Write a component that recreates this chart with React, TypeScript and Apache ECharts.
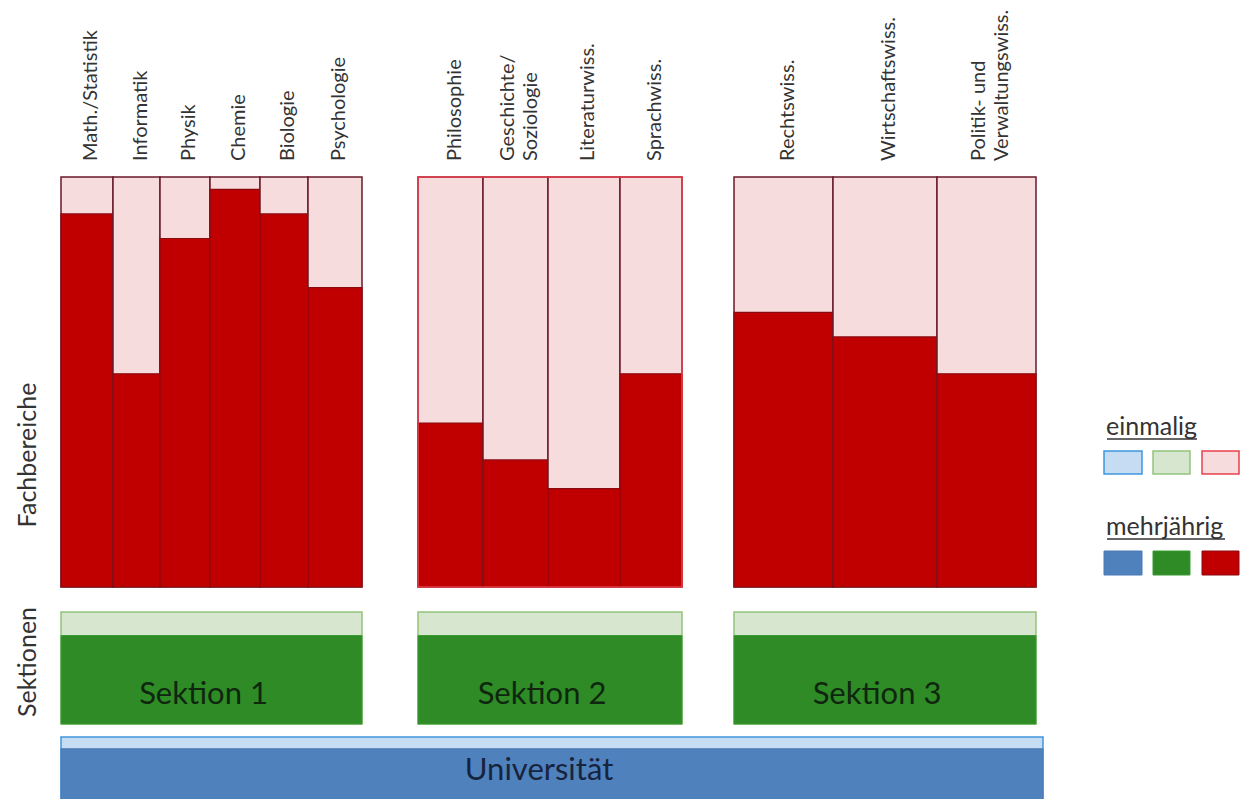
import React, { useEffect, useRef } from "react";
import * as echarts from "echarts";

// ---- data ----
const categories = [
  "Math./Statistik", "Informatik", "Physik", "Chemie", "Biologie", "Psychologie",
  "Philosophie", "Geschichte/\nSoziologie", "Literaturwiss.", "Sprachwiss.",
  "Rechtswiss.", "Wirtschaftswiss.", "Politik- und\nVerwaltungswiss.",
];
const sectionOf = [0, 0, 0, 0, 0, 0, 1, 1, 1, 1, 2, 2, 2];
const columnWidths = [52, 47, 50, 50, 48, 54, 65, 65, 72, 62, 99, 104, 99];
const mehrjaehrigShare = [91, 52, 85, 97, 91, 73, 40, 31, 24, 52, 67, 61, 52];
const sections = ["Sektion 1", "Sektion 2", "Sektion 3"];
const sectionEinmaligShare = [21, 21, 21];
const university = ["Universität"];
const universityEinmaligShare = [19];
const sectionGaps = [56, 52];
const universityWidth = 982;

// ---- layout helpers ----
const colStart: number[] = [];
{
  let x = 0;
  for (let i = 0; i < categories.length; i++) {
    if (i > 0 && sectionOf[i] !== sectionOf[i - 1]) x += sectionGaps[sectionOf[i] - 1];
    colStart.push(x);
    x += columnWidths[i];
  }
}
const sectionRange = sections.map((_, s) => {
  const idx = sectionOf.map((v, i) => (v === s ? i : -1)).filter((i) => i >= 0);
  const a = colStart[idx[0]];
  const b = colStart[idx[idx.length - 1]] + columnWidths[idx[idx.length - 1]];
  return [a, b];
});

const RED = "#c00000";
const PINK = "#f6dcdc";
const DARK_BORDER = "#6a1a28";
const BRIGHT_RED = "#e8404c";
const GREEN = "#2e8b26";
const LIGHT_GREEN = "#d6e6cf";
const GREEN_BORDER = "#93c47d";
const BLUE = "#4f81bd";
const LIGHT_BLUE = "#c5dcf2";
const BLUE_BORDER = "#3f96e0";
const FONT = "Lato, 'Open Sans', sans-serif";

export default function App() {
  const ref = useRef<HTMLDivElement>(null);
  useEffect(() => {
    document.body.style.margin = "0";
    const chart = echarts.init(ref.current!, null, { renderer: "svg" });

    const fachData = categories.map((c, i) => [colStart[i], colStart[i] + columnWidths[i], mehrjaehrigShare[i], i]);
    const sektData = sections.map((s, i) => [sectionRange[i][0], sectionRange[i][1], 100 - sectionEinmaligShare[i], i]);
    const uniData = university.map((u, i) => [0, universityWidth, 100 - universityEinmaligShare[i], i]);

    const grids = [
      { left: 61, top: 177, width: 982, height: 410 },
      { left: 61, top: 612, width: 982, height: 112 },
      { left: 61, top: 737, width: 982, height: 62 },
    ];

    const option: any = {
      animation: false,
      grid: grids,
      xAxis: grids.map((_, i) => ({ type: "value", gridIndex: i, min: 0, max: universityWidth, show: false })),
      yAxis: grids.map((_, i) => ({ type: "value", gridIndex: i, min: 0, max: 100, show: false })),
      series: [
        {
          type: "custom",
          xAxisIndex: 0,
          yAxisIndex: 0,
          data: fachData,
          renderItem: (params: any, api: any) => {
            const x0 = api.value(0), x1 = api.value(1), s = api.value(2), i = api.value(3);
            const tl = api.coord([x0, 100]);
            const br = api.coord([x1, 0]);
            const mid = api.coord([x0, s]);
            const w = br[0] - tl[0];
            return {
              type: "group",
              children: [
                { type: "rect", shape: { x: tl[0], y: tl[1], width: w, height: br[1] - tl[1] }, style: { fill: PINK, stroke: DARK_BORDER, lineWidth: 1.5 } },
                { type: "rect", shape: { x: tl[0], y: mid[1], width: w, height: br[1] - mid[1] }, style: { fill: RED, stroke: "#8a0a10", lineWidth: 1.2 } },
                {
                  type: "text",
                  x: tl[0] + w / 2 + 2,
                  y: tl[1] - 16,
                  rotation: Math.PI / 2,
                  style: { text: categories[i], fill: "#333", font: `20px ${FONT}`, align: "left", verticalAlign: "middle", lineHeight: 23 },
                },
              ],
            };
          },
        },
        {
          type: "custom",
          xAxisIndex: 0,
          yAxisIndex: 0,
          data: [[sectionRange[1][0], sectionRange[1][1]]],
          renderItem: (params: any, api: any) => {
            const tl = api.coord([api.value(0), 100]);
            const br = api.coord([api.value(1), 0]);
            return { type: "rect", shape: { x: tl[0], y: tl[1], width: br[0] - tl[0], height: br[1] - tl[1] }, style: { fill: "none", stroke: BRIGHT_RED, lineWidth: 1.5 } };
          },
        },
        {
          type: "custom",
          xAxisIndex: 1,
          yAxisIndex: 1,
          data: sektData,
          renderItem: (params: any, api: any) => {
            const x0 = api.value(0), x1 = api.value(1), s = api.value(2), i = api.value(3);
            const tl = api.coord([x0, 100]);
            const br = api.coord([x1, 0]);
            const mid = api.coord([x0, s]);
            const w = br[0] - tl[0];
            return {
              type: "group",
              children: [
                { type: "rect", shape: { x: tl[0], y: tl[1], width: w, height: br[1] - tl[1] }, style: { fill: LIGHT_GREEN, stroke: GREEN_BORDER, lineWidth: 1.5 } },
                { type: "rect", shape: { x: tl[0], y: mid[1], width: w, height: br[1] - mid[1] }, style: { fill: GREEN, stroke: "#3a9a30", lineWidth: 1 } },
                {
                  type: "text",
                  x: tl[0] + w / 2 - 8,
                  y: (mid[1] + br[1]) / 2 + 12,
                  style: { text: sections[i], fill: "#0f260f", font: `31px ${FONT}`, align: "center", verticalAlign: "middle" },
                },
              ],
            };
          },
        },
        {
          type: "custom",
          xAxisIndex: 2,
          yAxisIndex: 2,
          data: uniData,
          renderItem: (params: any, api: any) => {
            const x0 = api.value(0), x1 = api.value(1), s = api.value(2), i = api.value(3);
            const tl = api.coord([x0, 100]);
            const br = api.coord([x1, 0]);
            const mid = api.coord([x0, s]);
            const w = br[0] - tl[0];
            return {
              type: "group",
              children: [
                { type: "rect", shape: { x: tl[0], y: tl[1], width: w, height: br[1] - tl[1] + 4 }, style: { fill: LIGHT_BLUE, stroke: BLUE_BORDER, lineWidth: 1.5 } },
                { type: "rect", shape: { x: tl[0], y: mid[1], width: w, height: br[1] - mid[1] + 4 }, style: { fill: BLUE, stroke: "#4a7ab5", lineWidth: 1 } },
                {
                  type: "text",
                  x: tl[0] + w / 2 - 13,
                  y: (mid[1] + br[1]) / 2 - 6,
                  style: { text: university[i], fill: "#17243d", font: `31px ${FONT}`, align: "center", verticalAlign: "middle" },
                },
              ],
            };
          },
        },
      ],
      graphic: [
        { type: "text", x: 26, y: 455, rotation: Math.PI / 2, style: { text: "Fachbereiche", fill: "#333", font: `25px ${FONT}`, align: "center", verticalAlign: "middle" } },
        { type: "text", x: 26, y: 662, rotation: Math.PI / 2, style: { text: "Sektionen", fill: "#333", font: `25px ${FONT}`, align: "center", verticalAlign: "middle" } },
        { type: "text", x: 1106, y: 425, style: { text: "einmalig", fill: "#333", font: `25px ${FONT}`, align: "left", verticalAlign: "middle" } },
        { type: "line", shape: { x1: 1107, y1: 439, x2: 1197, y2: 439 }, style: { stroke: "#333", lineWidth: 1.5 } },
        { type: "rect", shape: { x: 1104, y: 451, width: 38, height: 23 }, style: { fill: LIGHT_BLUE, stroke: BLUE_BORDER, lineWidth: 1.5 } },
        { type: "rect", shape: { x: 1153, y: 451, width: 37, height: 23 }, style: { fill: LIGHT_GREEN, stroke: GREEN_BORDER, lineWidth: 1.5 } },
        { type: "rect", shape: { x: 1202, y: 451, width: 37, height: 23 }, style: { fill: PINK, stroke: BRIGHT_RED, lineWidth: 1.5 } },
        { type: "text", x: 1106, y: 525, style: { text: "mehrjährig", fill: "#333", font: `25px ${FONT}`, align: "left", verticalAlign: "middle" } },
        { type: "line", shape: { x1: 1107, y1: 539, x2: 1225, y2: 539 }, style: { stroke: "#333", lineWidth: 1.5 } },
        { type: "rect", shape: { x: 1104, y: 551, width: 38, height: 24 }, style: { fill: BLUE, stroke: "#4a7ab5", lineWidth: 1 } },
        { type: "rect", shape: { x: 1153, y: 551, width: 37, height: 24 }, style: { fill: GREEN, stroke: "#3a9a30", lineWidth: 1 } },
        { type: "rect", shape: { x: 1202, y: 551, width: 37, height: 24 }, style: { fill: RED, stroke: "#8a0a10", lineWidth: 1 } },
      ],
    };
    chart.setOption(option);
    return () => chart.dispose();
  }, []);
  return <div ref={ref} style={{ width: 1247, height: 799 }} />;
}
